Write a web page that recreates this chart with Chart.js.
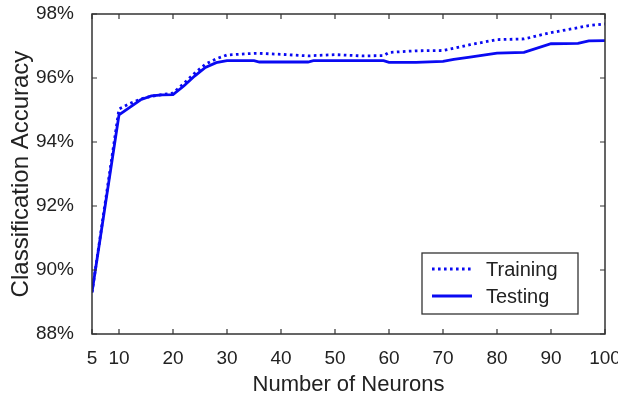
<!DOCTYPE html>
<html lang="en">
<head>
    <meta charset="UTF-8">
    <title>Classification Accuracy</title>
    <script src="https://cdn.jsdelivr.net/npm/chart.js"></script>
    <style>
        html, body { margin: 0; padding: 0; background: #fff; }
        #wrap { position: relative; width: 618px; height: 398px; }
    </style>
</head>
<body>
    <div id="wrap"><canvas id="accChart" width="618" height="398"></canvas></div>

    <script>
        // Data
        const neurons  = [5, 10, 12, 14, 16, 18, 20, 22, 24, 26, 28, 30, 35, 36, 40, 45, 46, 50, 55, 59, 60, 65, 70, 72, 75, 80, 85, 90, 95, 97, 100];
        const training = [89.3, 95.03, 95.2, 95.34, 95.43, 95.48, 95.53, 95.83, 96.15, 96.43, 96.6, 96.72, 96.77, 96.77, 96.74, 96.69, 96.7, 96.73, 96.69, 96.7, 96.8, 96.85, 96.86, 96.93, 97.04, 97.2, 97.22, 97.42, 97.57, 97.64, 97.69];
        const testing  = [89.3, 94.85, 95.08, 95.32, 95.44, 95.47, 95.48, 95.75, 96.06, 96.33, 96.48, 96.54, 96.54, 96.5, 96.5, 96.5, 96.54, 96.54, 96.54, 96.54, 96.49, 96.49, 96.52, 96.58, 96.65, 96.78, 96.8, 97.07, 97.08, 97.16, 97.17];
        const xTicks   = [5, 10, 20, 30, 40, 50, 60, 70, 80, 90, 100];
        const yTicks   = [88, 90, 92, 94, 96, 98];

        const blue = '#0a0af2';
        const axisColor = '#333';
        const font = "Arial, 'Liberation Sans', sans-serif";

        // box around plot with inward ticks on all four sides (MATLAB style)
        const boxPlugin = {
            id: 'box',
            afterDraw(chart) {
                const { ctx, chartArea: a, scales: { x, y } } = chart;
                ctx.save();
                ctx.strokeStyle = axisColor;
                ctx.lineWidth = 1.5;
                ctx.strokeRect(a.left, a.top, a.right - a.left, a.bottom - a.top);
                ctx.lineWidth = 1.2;
                ctx.beginPath();
                xTicks.forEach(v => {
                    const px = x.getPixelForValue(v);
                    ctx.moveTo(px, a.bottom); ctx.lineTo(px, a.bottom - 5);
                    ctx.moveTo(px, a.top); ctx.lineTo(px, a.top + 5);
                });
                yTicks.forEach(v => {
                    const py = y.getPixelForValue(v);
                    ctx.moveTo(a.left, py); ctx.lineTo(a.left + 5, py);
                    ctx.moveTo(a.right, py); ctx.lineTo(a.right - 5, py);
                });
                ctx.stroke();

                // legend box
                const lx = 422, ly = 253, lw = 156, lh = 61;
                ctx.fillStyle = '#fff';
                ctx.fillRect(lx, ly, lw, lh);
                ctx.strokeStyle = axisColor;
                ctx.lineWidth = 1.3;
                ctx.strokeRect(lx, ly, lw, lh);
                chart.data.datasets.forEach((ds, i) => {
                    const rowY = ly + 16 + i * 27;
                    ctx.strokeStyle = ds.borderColor;
                    ctx.lineWidth = ds.borderWidth;
                    ctx.setLineDash(ds.borderDash || []);
                    ctx.beginPath();
                    ctx.moveTo(lx + 10, rowY); ctx.lineTo(lx + 50, rowY);
                    ctx.stroke();
                    ctx.setLineDash([]);
                    ctx.fillStyle = '#222';
                    ctx.font = '20px ' + font;
                    ctx.textBaseline = 'middle';
                    ctx.fillText(ds.label, lx + 64, rowY + 1);
                });
                ctx.restore();
            }
        };

        new Chart(document.getElementById('accChart'), {
            type: 'line',
            data: {
                datasets: [{
                    label: 'Training',
                    data: neurons.map((n, i) => ({ x: n, y: training[i] })),
                    borderColor: blue,
                    borderWidth: 2.8,
                    borderDash: [2.6, 3.4],
                    pointRadius: 0,
                    tension: 0
                }, {
                    label: 'Testing',
                    data: neurons.map((n, i) => ({ x: n, y: testing[i] })),
                    borderColor: blue,
                    borderWidth: 2.8,
                    pointRadius: 0,
                    tension: 0
                }]
            },
            options: {
                responsive: false,
                animation: false,
                devicePixelRatio: 1,
                layout: { padding: { top: 14, right: 13, left: 0, bottom: 0 } },
                plugins: { legend: { display: false }, tooltip: { enabled: false } },
                scales: {
                    x: {
                        type: 'linear',
                        min: 5,
                        max: 100,
                        afterBuildTicks: s => { s.ticks = xTicks.map(v => ({ value: v })); },
                        afterFit: s => { s.height = 64; s.paddingLeft = 0; s.paddingRight = 0; },
                        grid: { display: false },
                        border: { display: false },
                        ticks: {
                            color: '#222',
                            padding: 5,
                            maxRotation: 0,
                            autoSkip: false,
                            font: { family: font, size: 19 }
                        },
                        title: {
                            display: true,
                            text: 'Number of Neurons',
                            color: '#222',
                            padding: { top: 0, bottom: 0 },
                            font: { family: font, size: 22 }
                        }
                    },
                    y: {
                        min: 88,
                        max: 98,
                        afterBuildTicks: s => { s.ticks = yTicks.map(v => ({ value: v })); },
                        afterFit: s => { s.width = 92; s.paddingTop = 0; s.paddingBottom = 0; },
                        grid: { display: false },
                        border: { display: false },
                        ticks: {
                            color: '#222',
                            padding: 10,
                            font: { family: font, size: 19 },
                            callback: v => v + '%'
                        },
                        title: {
                            display: true,
                            text: 'Classification Accuracy',
                            color: '#222',
                            padding: { top: 7, bottom: 0 },
                            font: { family: font, size: 24 }
                        }
                    }
                }
            },
            plugins: [boxPlugin]
        });
    </script>
</body>
</html>
